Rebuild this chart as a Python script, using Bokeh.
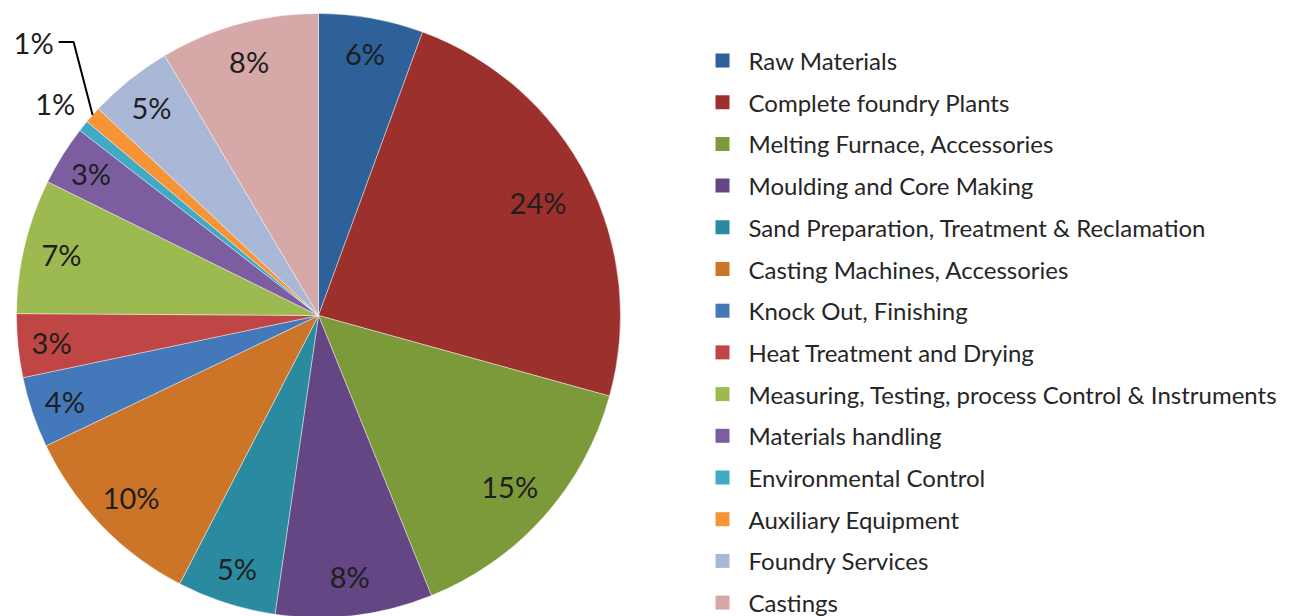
import math
from bokeh.plotting import figure
from bokeh.models import Range1d, ColumnDataSource
from bokeh.embed import file_html
from bokeh.resources import INLINE
from bokeh.core.properties import value

categories = [
    "Raw Materials",
    "Complete foundry Plants",
    "Melting Furnace, Accessories",
    "Moulding and Core Making",
    "Sand Preparation, Treatment & Reclamation",
    "Casting Machines, Accessories",
    "Knock Out, Finishing",
    "Heat Treatment and Drying",
    "Measuring, Testing, process Control & Instruments",
    "Materials handling",
    "Environmental Control",
    "Auxiliary Equipment",
    "Foundry Services",
    "Castings",
]
shares = [5.6, 23.7, 14.6, 8.4, 5.3, 10.3, 3.8, 3.4, 7.2, 3.2, 0.6, 0.9, 4.5, 8.5]
pct_labels = ["6%", "24%", "15%", "8%", "5%", "10%", "4%", "3%", "7%", "3%", "1%", "1%", "5%", "8%"]
colors = [
    "#2E6099", "#9B302D", "#7D9A3B", "#634683", "#2A8A9F", "#CC7528", "#4379BB",
    "#BF4644", "#9CBA50", "#7C5EA0", "#3FA9C6", "#F79437", "#A9B8D7", "#D7A8A8",
]

W, H = 1293, 616
CX, CY, R = 318, H - 315, 302
FONT = "Lato"
TXT = "#262626"

total = sum(shares)
starts, ends, mids = [], [], []
cum = 0.0
for s in shares:
    a0 = math.pi / 2 - 2 * math.pi * cum / total
    cum += s
    a1 = math.pi / 2 - 2 * math.pi * cum / total
    starts.append(a0)
    ends.append(a1)
    mids.append((a0 + a1) / 2)

p = figure(width=W, height=H, x_range=Range1d(0, W), y_range=Range1d(0, H),
           output_backend="svg", toolbar_location=None, min_border=0)
p.xaxis.visible = False
p.yaxis.visible = False
p.grid.visible = False
p.outline_line_color = None
p.background_fill_color = "white"
p.border_fill_color = "white"

src = ColumnDataSource(dict(start=starts, end=ends, color=colors))
p.wedge(x=CX, y=CY, radius=R, start_angle="start", end_angle="end",
        direction="clock", fill_color="color", line_color="white",
        line_width=0.6, line_alpha=0.7, source=src)

# label positions (bigger slices get labels a little further inside)
lx, ly, lt = [], [], []
lead_x, lead_y = None, None
for i, (m, t, s) in enumerate(zip(mids, pct_labels, shares)):
    if i == 11:
        ex = CX + R * math.cos(m)
        ey = CY + R * math.sin(m)
        x, y = ex - 59, ey + 73
        lead_x = [x + 25, x + 40, ex]
        lead_y = [y, y, ey]
    else:
        f = 1.12 if i == 10 else 0.90 - 0.0035 * s
        x = CX + f * R * math.cos(m)
        y = CY + f * R * math.sin(m)
    lx.append(x)
    ly.append(y)
    lt.append(t)

p.line(lead_x, lead_y, line_color="black", line_width=2)
p.text(x=lx, y=ly, text=lt, text_align="center", text_baseline="middle",
       text_font=value(FONT), text_font_size="29px", text_color="#1e1e1e")

# legend
n = len(categories)
leg_y = [H - (60 + i * 41.7) for i in range(n)]
p.rect(x=[722] * n, y=leg_y, width=14, height=14, fill_color=colors, line_color=None)
p.text(x=[748] * n, y=leg_y, text=categories, text_align="left", text_baseline="middle",
       text_font=value(FONT), text_font_size="24px", text_color=TXT)

open("out.html", "w").write(file_html(p, INLINE))
